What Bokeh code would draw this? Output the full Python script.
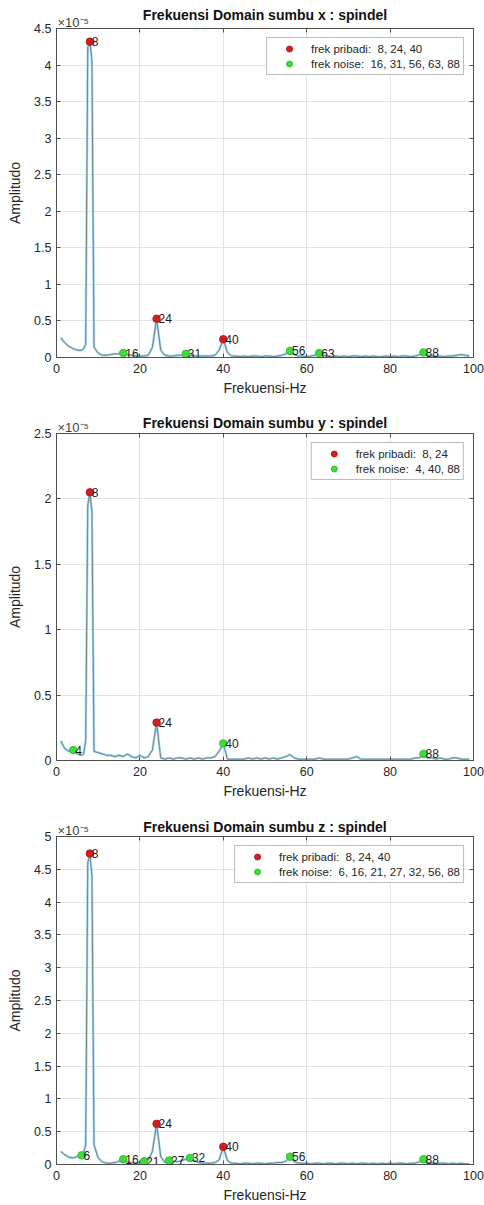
from bokeh.plotting import figure
from bokeh.models import (Range1d, FixedTicker, CustomJSTickFormatter, LinearAxis,
                          Label, Legend)
from bokeh.layouts import column
from bokeh.embed import file_html
from bokeh.resources import INLINE
from bokeh.core.properties import value

FONT = "Liberation Sans"

# ---------------- data (amplitude in units of 1e-5) ----------------
freq_hz = [1, 2, 3, 4, 5, 6, 6.5, 7, 7.5, 8, 8.5, 9,
           10, 11, 12, 13, 14, 15, 16, 17, 18, 19,
           20, 21, 22, 23, 24, 25, 26, 27, 28, 29,
           30, 31, 32, 33, 34, 35, 36, 37, 38, 39,
           40, 41, 42, 43, 44, 45, 46, 47, 48, 49,
           50, 51, 52, 53, 54, 55, 56, 57, 58, 59,
           60, 61, 62, 63, 64, 65, 66, 67, 68, 69,
           70, 71, 72, 73, 74, 75, 76, 77, 78, 79,
           80, 81, 82, 83, 84, 85, 86, 87, 88, 89,
           90, 91, 92, 93, 94, 95, 96, 97, 98, 99]

amp_x = [0.27, 0.20, 0.15, 0.12, 0.10, 0.10, 0.12, 0.18, 4.25, 4.32, 4.05, 0.14,
         0.06, 0.03, 0.03, 0.04, 0.05, 0.05, 0.06, 0.04, 0.03, 0.02,
         0.02, 0.02, 0.03, 0.14, 0.53, 0.10, 0.03, 0.02, 0.02, 0.03,
         0.03, 0.05, 0.03, 0.02, 0.02, 0.02, 0.02, 0.02, 0.03, 0.10,
         0.25, 0.07, 0.02, 0.02, 0.01, 0.02, 0.01, 0.02, 0.02, 0.01,
         0.02, 0.02, 0.01, 0.02, 0.03, 0.05, 0.09, 0.04, 0.02, 0.02,
         0.01, 0.02, 0.03, 0.06, 0.03, 0.02, 0.01, 0.02, 0.01, 0.02,
         0.01, 0.02, 0.02, 0.01, 0.02, 0.01, 0.02, 0.01, 0.01, 0.02,
         0.01, 0.02, 0.01, 0.02, 0.02, 0.01, 0.02, 0.04, 0.07, 0.03,
         0.02, 0.01, 0.02, 0.01, 0.02, 0.02, 0.03, 0.04, 0.03, 0.02]

amp_y = [0.15, 0.09, 0.07, 0.08, 0.05, 0.04, 0.05, 0.15, 1.95, 2.05, 1.90, 0.07,
         0.06, 0.05, 0.04, 0.04, 0.03, 0.04, 0.03, 0.05, 0.03, 0.02,
         0.04, 0.02, 0.03, 0.08, 0.29, 0.02, 0.01, 0.02, 0.01, 0.02,
         0.02, 0.01, 0.02, 0.01, 0.02, 0.01, 0.02, 0.02, 0.03, 0.07,
         0.13, 0.01, 0.01, 0.01, 0.01, 0.01, 0.02, 0.01, 0.02, 0.01,
         0.02, 0.01, 0.02, 0.01, 0.02, 0.03, 0.045, 0.02, 0.01, 0.01,
         0.01, 0.01, 0.01, 0.02, 0.01, 0.01, 0.01, 0.01, 0.01, 0.01,
         0.01, 0.02, 0.03, 0.01, 0.01, 0.01, 0.01, 0.01, 0.01, 0.01,
         0.01, 0.01, 0.01, 0.01, 0.01, 0.01, 0.02, 0.02, 0.05, 0.02,
         0.02, 0.01, 0.02, 0.01, 0.01, 0.02, 0.02, 0.01, 0.01, 0.01]

amp_z = [0.20, 0.15, 0.11, 0.10, 0.12, 0.14, 0.18, 0.30, 4.60, 4.74, 4.40, 0.30,
         0.10, 0.04, 0.02, 0.02, 0.03, 0.05, 0.08, 0.04, 0.03, 0.02,
         0.03, 0.05, 0.06, 0.20, 0.62, 0.12, 0.03, 0.06, 0.05, 0.04,
         0.06, 0.08, 0.10, 0.06, 0.03, 0.02, 0.02, 0.02, 0.03, 0.07,
         0.27, 0.06, 0.02, 0.02, 0.01, 0.02, 0.02, 0.01, 0.02, 0.02,
         0.01, 0.02, 0.02, 0.03, 0.03, 0.05, 0.12, 0.04, 0.02, 0.02,
         0.02, 0.01, 0.02, 0.02, 0.01, 0.02, 0.02, 0.01, 0.02, 0.02,
         0.01, 0.02, 0.01, 0.02, 0.02, 0.01, 0.02, 0.01, 0.02, 0.01,
         0.02, 0.01, 0.02, 0.02, 0.01, 0.02, 0.02, 0.04, 0.08, 0.03,
         0.02, 0.01, 0.02, 0.02, 0.01, 0.02, 0.01, 0.02, 0.01, 0.01]

prib_x_f = [8, 24, 40]
prib_x_a = [4.32, 0.53, 0.25]
noise_x_f = [16, 31, 56, 63, 88]
noise_x_a = [0.06, 0.05, 0.09, 0.06, 0.07]

prib_y_f = [8, 24]
prib_y_a = [2.05, 0.29]
noise_y_f = [4, 40, 88]
noise_y_a = [0.08, 0.13, 0.05]

prib_z_f = [8, 24, 40]
prib_z_a = [4.74, 0.62, 0.27]
noise_z_f = [6, 16, 21, 27, 32, 56, 88]
noise_z_a = [0.14, 0.08, 0.05, 0.06, 0.10, 0.12, 0.08]

x_ticks = [0, 20, 40, 60, 80, 100]
y_ticks_x = [0, 0.5, 1, 1.5, 2, 2.5, 3, 3.5, 4, 4.5]
y_ticks_y = [0, 0.5, 1, 1.5, 2, 2.5]
y_ticks_z = [0, 0.5, 1, 1.5, 2, 2.5, 3, 3.5, 4, 4.5, 5]

titles = ["Frekuensi Domain sumbu x : spindel",
          "Frekuensi Domain sumbu y : spindel",
          "Frekuensi Domain sumbu z : spindel"]
exponent_text = "\u00d710\u207b\u2075"

TXT = "#262626"
FRAME = "#505050"


def make_panel(title, amps, pf, pa, nf, na, yticks, height, top, bottom, tstand):
    ymax = yticks[-1]
    p = figure(width=484, height=height, output_backend="svg", toolbar_location=None,
               x_range=Range1d(0, 100), y_range=Range1d(0, ymax),
               min_border_left=56, min_border_right=11,
               min_border_top=top, min_border_bottom=bottom,
               background_fill_color="white", border_fill_color="white",
               title=title)
    p.title.align = "center"
    p.title.vertical_align = "bottom"
    p.title.text_font = FONT
    p.title.text_font_size = "14px"
    p.title.text_font_style = "bold"
    p.title.text_color = "#111111"
    p.title.standoff = tstand
    p.outline_line_color = FRAME
    p.outline_line_width = 0.8

    p.xaxis.ticker = FixedTicker(ticks=x_ticks)
    p.yaxis.ticker = FixedTicker(ticks=yticks)
    p.yaxis.formatter = CustomJSTickFormatter(code="return String(Math.round(tick*10)/10);")
    p.xaxis.axis_label = "Frekuensi-Hz"
    p.yaxis.axis_label = "Amplitudo"
    for ax in (p.xaxis[0], p.yaxis[0]):
        ax.axis_line_color = FRAME
        ax.major_tick_line_color = FRAME
        ax.major_tick_in = 4
        ax.major_tick_out = 0
        ax.minor_tick_line_color = None
        ax.major_label_text_font = FONT
        ax.major_label_text_font_size = "12.5px"
        ax.major_label_text_color = TXT
        ax.axis_label_text_font = FONT
        ax.axis_label_text_font_size = "14px"
        ax.axis_label_text_font_style = "normal"
        ax.axis_label_text_color = TXT
    p.xaxis.major_label_standoff = 6
    p.xaxis.axis_label_standoff = 4
    p.yaxis.major_label_standoff = 5
    p.yaxis.axis_label_standoff = 8

    ra = LinearAxis(ticker=FixedTicker(ticks=yticks),
                    formatter=CustomJSTickFormatter(code="return '';"))
    ta = LinearAxis(ticker=FixedTicker(ticks=x_ticks),
                    formatter=CustomJSTickFormatter(code="return '';"))
    for ax in (ra, ta):
        ax.axis_line_color = FRAME
        ax.major_tick_line_color = FRAME
        ax.major_tick_in = 4
        ax.major_tick_out = 0
        ax.minor_tick_line_color = None
        ax.major_label_standoff = 0
        ax.major_label_text_font_size = "1px"
    p.add_layout(ra, "right")
    p.add_layout(ta, "above")

    p.xgrid.grid_line_color = "#e3e3e3"
    p.ygrid.grid_line_color = "#e3e3e3"

    p.line(freq_hz, amps, line_color="#a8d6ea", line_width=2.4)
    p.line(freq_hz, amps, line_color="#4a6572", line_width=0.7)

    r1 = p.scatter(pf, pa, size=7.5, fill_color="#d01f1f", line_color="#b81a1a")
    r2 = p.scatter(nf, na, size=7.5, fill_color="#3bdc3b", line_color="#2ec42e")

    p.text(x=pf + nf, y=pa + na, text=[str(f) for f in pf + nf],
           text_font=value(FONT), text_font_size="12px", text_color="#1a1a1a",
           text_align="left", text_baseline="middle", x_offset=2)

    lab1 = "frek pribadi:  " + ", ".join(str(f) for f in pf)
    lab2 = "frek noise:  " + ", ".join(str(f) for f in nf)
    legend = Legend(items=[(lab1, [r1]), (lab2, [r2])], location="top_right",
                    label_text_font=FONT, label_text_font_size="11.5px",
                    label_text_color=TXT, padding=3, margin=9,
                    glyph_width=38, glyph_height=15, label_height=15,
                    label_standoff=3, spacing=0,
                    border_line_color="#7a7a7a", border_line_width=1,
                    background_fill_color="white", background_fill_alpha=1)
    p.add_layout(legend)

    p.add_layout(Label(x=1, y=-1, x_units="screen", y_units="screen",
                       text=exponent_text, text_baseline="bottom", text_font=FONT,
                       text_font_size="13px", text_color="#404040"), "above")
    return p


p1 = make_panel(titles[0], amp_x, prib_x_f, prib_x_a, noise_x_f, noise_x_a,
                y_ticks_x, 400, 28, 43, -19)
p2 = make_panel(titles[1], amp_y, prib_y_f, prib_y_a, noise_y_f, noise_y_a,
                y_ticks_y, 405, 33, 45, -25)
p3 = make_panel(titles[2], amp_z, prib_z_f, prib_z_a, noise_z_f, noise_z_a,
                y_ticks_z, 400, 31, 40, -27)

layout = column(p1, p2, p3, spacing=0)
open("out.html", "w").write(file_html(layout, INLINE))
